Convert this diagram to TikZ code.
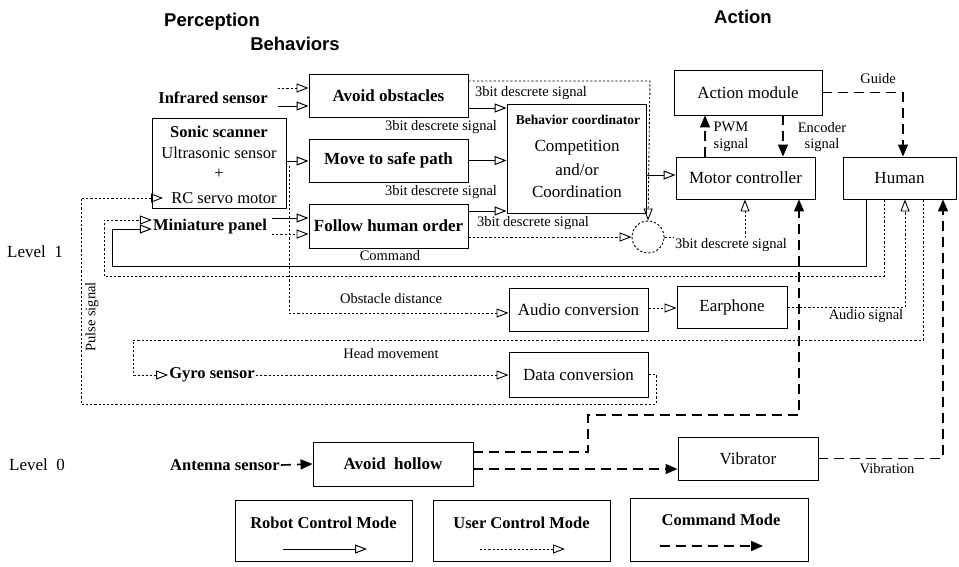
\documentclass[tikz,border=0pt]{standalone}
\usepackage{fontspec}
\setmainfont{Liberation Serif}
\newfontfamily\hdfont{Liberation Sans}
\usetikzlibrary{arrows.meta,calc}
\begin{document}
\begin{tikzpicture}[x=1pt,y=-1pt,
  box/.style={draw,line width=0.9pt,inner sep=0pt,font=\fontsize{17}{19}\selectfont},
  bbox/.style={box,font=\fontsize{17}{19}\selectfont\bfseries},
  bl/.style={font=\fontsize{16.5}{19}\selectfont\bfseries,inner sep=1pt},
  rg/.style={font=\fontsize{16.5}{19}\selectfont,inner sep=1pt},
  lbl/.style={font=\fontsize{14.5}{16}\selectfont,inner sep=1pt},
  hd/.style={font=\hdfont\bfseries\fontsize{18.5}{20}\selectfont},
  robot/.style={line width=1pt,-{Triangle[open,length=12pt,width=9pt]}},
  usr/.style={line width=0.9pt,dash pattern=on 2.2pt off 2pt},
  user/.style={usr,-{Triangle[open,length=12pt,width=9pt]}},
  cmd/.style={line width=1.6pt,dash pattern=on 10pt off 6pt,-{Triangle[length=12pt,width=10pt]}},
]
\useasboundingbox (0,0) rectangle (959,566);

% headers
\node[hd] (perc) at (212,22) {Perception};
\node[hd] (behv) at (295,44) {Behaviors};
\node[hd] (act) at (743,17) {Action};

% level labels
\node[font=\fontsize{17}{19}\selectfont] (lv1) at (35,252) {Level\ \ 1};
\node[font=\fontsize{17}{19}\selectfont] (lv0) at (37,465) {Level\ \ 0};

% perception
\node[bl] (infra) at (213,98) {Infrared sensor};
\node[draw,line width=0.9pt,minimum width=134,minimum height=90,inner sep=0pt] (sonic) at (219,163) {};
\node[bl] (sonict) at (219,132) {Sonic scanner};
\node[rg] (ultra) at (219,153) {Ultrasonic sensor};
\node[rg] (plus) at (219,174) {+};
\node[rg] (rcs) at (224,198) {RC servo motor};
\node[bl] (minip) at (210,227) {Miniature panel};
\node[bl] (gyro) at (212,375) {Gyro sensor};
\node[bl] (antenna) at (225,465) {Antenna sensor};

% behaviours
\node[bbox,minimum width=159,minimum height=43] (avoid) at (388.5,95.5) {Avoid obstacles};
\node[bbox,minimum width=159,minimum height=43] (move) at (388.5,160.5) {Move to safe path};
\node[bbox,minimum width=159,minimum height=44] (fho) at (388.5,226) {Follow human order};
\node[bbox,minimum width=160,minimum height=44] (hollow) at (393,464) {Avoid\ \ hollow};

% coordinator
\node[draw,line width=0.9pt,minimum width=139,minimum height=109,inner sep=0pt] (coord) at (576.5,158.5) {};
\node[font=\fontsize{13.5}{15}\selectfont\bfseries] (coordt) at (578,120) {Behavior coordinator};
\node[font=\fontsize{17}{19}\selectfont] (comp) at (577,148) {Competition};
\node[font=\fontsize{17}{19}\selectfont] (andor) at (577,170) {and/or};
\node[font=\fontsize{17}{19}\selectfont] (coordn) at (577,192) {Coordination};
\node[draw,circle,usr,minimum size=32,inner sep=0pt] (sum) at (648,237) {};

% action
\node[box,minimum width=148,minimum height=45] (action) at (748,92.5) {Action module};
\node[box,minimum width=139,minimum height=42] (mc) at (745.5,178) {Motor controller};
\node[box,minimum width=113,minimum height=42] (human) at (899.5,178) {Human};
\node[box,minimum width=139,minimum height=43] (audio) at (578.5,309.5) {Audio conversion};
\node[box,minimum width=110,minimum height=42] (ear) at (732,307) {Earphone};
\node[box,minimum width=139,minimum height=45] (data) at (578.5,374.5) {Data conversion};
\node[box,minimum width=140,minimum height=43] (vib) at (748,458.5) {Vibrator};

% robot-mode connectors
\draw[robot] (sonic.east |- 0,161) -- (move.west |- 0,161);
\draw[robot] (272,218) -- (fho.west |- 0,218);
\draw[robot] (avoid.east |- 0,108) -- (coord.west |- 0,108);
\draw[robot] (move.east) -- (coord.west |- move.east);
\draw[robot] (fho.east |- 0,211) -- (coord.west |- 0,211);
\draw[robot] (coord.east |- 0,175) -- (mc.west |- 0,175);
\draw[robot] (866,0 |- human.south) -- (866,266) -- (112,266) -- (112,229) -- (minip.west |- 0,229);
\draw[robot] (278,106) -- (avoid.west |- 0,106);

% user-mode connectors
\draw[user] (278,88) -- (avoid.west |- 0,88);
\draw[user] (272,234) -- (fho.west |- 0,234);
\draw[user] (avoid.east |- 0,81) -- (650,81) -- (sum.north);
\draw[user] (fho.east |- sum.west) -- (sum.west);
\draw[user] (sum.east) -- (745,237) -- (745,0 |- mc.south);
\draw[user] (884,0 |- human.south) -- (884,276) -- (104,276) -- (104,220) -- (minip.west |- 0,220);
\draw[user] (289,166) -- (289,313) -- (audio.west |- 0,313);
\draw[user] (audio.east |- 0,308) -- (ear.west |- 0,308);
\draw[user] (ear.east) -- (905,0 |- ear.east) -- (905,0 |- human.south);
\draw[user] (923,0 |- human.south) -- (923,340) -- (133,340) -- (133,375) -- (gyro.west);
\draw[user] (gyro.east) -- (data.west |- gyro.east);
\draw[user] (data.east) -- (656,0 |- data.east) -- (656,404) -- (81,404) -- (81,198) -- (163,198);

% command-mode connectors
\draw[cmd] (783,0 |- action.south) -- (783,0 |- mc.north);
\draw[cmd] (705,0 |- mc.north) -- (705,0 |- action.south);
\draw[cmd] (action.east) -- (903,0 |- action.east) -- (903,0 |- human.north);
\draw[cmd] (antenna.east) -- (hollow.west);
\draw[cmd] (hollow.east |- 0,452) -- (588,452) -- (588,415) -- (799,415) -- (799,0 |- mc.south);
\draw[cmd] (hollow.east |- 0,469) -- (vib.west |- 0,469);
\draw[cmd] (vib.east) -- (943,0 |- vib.east) -- (943,0 |- human.south);

% labels
\node[lbl] (l1) at (531,93) {3bit descrete signal};
\node[lbl] (l2) at (441,127) {3bit descrete signal};
\node[lbl] (l3) at (441,192) {3bit descrete signal};
\node[lbl] (l4) at (533,223) {3bit descrete signal};
\node[lbl,fill=white] (l5) at (731,245) {3bit descrete signal};
\node[lbl] (lcmd) at (390,256) {Command};
\node[lbl] (lobs) at (391,299) {Obstacle distance};
\node[lbl] (lhead) at (391,354) {Head movement};
\node[lbl] (laud) at (866,316) {Audio signal};
\node[lbl] (lvib) at (887,469) {Vibration};
\node[lbl] (lguide) at (878,79) {Guide};
\node[lbl] (lpwm1) at (731,127) {PWM};
\node[lbl] (lpwm2) at (731,145) {signal};
\node[lbl] (lenc1) at (822,128) {Encoder};
\node[lbl] (lenc2) at (822,145) {signal};
\node[lbl,rotate=90] (lpulse) at (92,317) {Pulse signal};

% legend
\node[draw,line width=0.9pt,minimum width=177,minimum height=61,inner sep=0pt] (lrob) at (323.5,531) {};
\node[bl] (lrobt) at (323.5,523) {Robot Control Mode};
\coordinate (ra) at (283,549); \coordinate (rb) at (367,549);
\draw[robot] (ra) -- (rb);
\node[draw,line width=0.9pt,minimum width=177,minimum height=61,inner sep=0pt] (lusr) at (521.5,531) {};
\node[bl] (lusrt) at (521.5,523) {User Control Mode};
\coordinate (ua) at (480,549); \coordinate (ub) at (565,549);
\draw[user] (ua) -- (ub);
\node[draw,line width=0.9pt,minimum width=178,minimum height=63,inner sep=0pt] (lcm) at (719,530) {};
\node[bl] (lcmt) at (721,520) {Command Mode};
\coordinate (ca) at (660,546); \coordinate (cb) at (763,546);
\draw[cmd] (ca) -- (cb);
\end{tikzpicture}
\end{document}
